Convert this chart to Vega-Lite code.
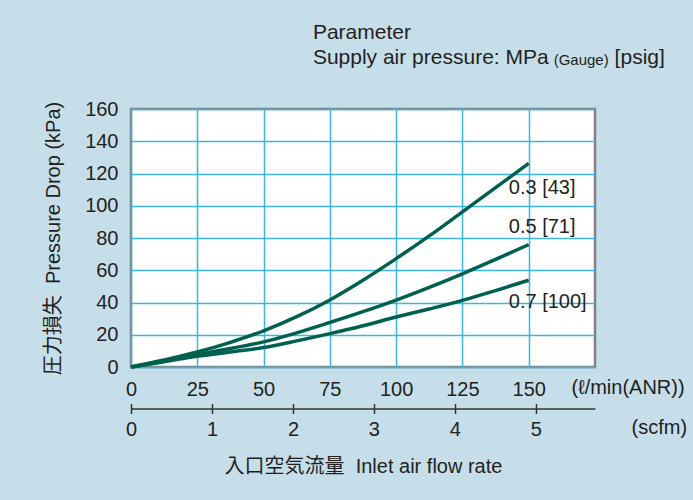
{
  "$schema": "https://vega.github.io/schema/vega-lite/v6.json",
  "width": 464,
  "height": 258,
  "autosize": {"type": "none"},
  "padding": {"left": 131, "top": 109, "right": 98, "bottom": 133},
  "background": "#c6deea",
  "config": {
    "font": "Liberation Sans, Noto Sans CJK JP, sans-serif",
    "view": {"fill": "white", "stroke": "#808080", "strokeWidth": 2.5},
    "axis": {
      "labelFont": "Liberation Sans, Noto Sans CJK JP, sans-serif",
      "titleFont": "Liberation Sans, Noto Sans CJK JP, sans-serif",
      "labelColor": "#231f20",
      "titleColor": "#231f20",
      "titleFontWeight": "normal",
      "labelFontSize": 20,
      "titleFontSize": 20,
      "labelFlush": false,
      "labelOverlap": false,
      "labelBound": false
    }
  },
  "datasets": {
    "curves": [
      {"p": "0.3", "q": 0, "dp": 0}, {"p": "0.3", "q": 12.5, "dp": 4.3}, {"p": "0.3", "q": 25, "dp": 9.3},
      {"p": "0.3", "q": 37.5, "dp": 15.3}, {"p": "0.3", "q": 50, "dp": 22.4}, {"p": "0.3", "q": 62.5, "dp": 31.2},
      {"p": "0.3", "q": 75, "dp": 41.6}, {"p": "0.3", "q": 87.5, "dp": 53.8}, {"p": "0.3", "q": 100, "dp": 67.2},
      {"p": "0.3", "q": 112.5, "dp": 81.3}, {"p": "0.3", "q": 125, "dp": 96.2}, {"p": "0.3", "q": 137.5, "dp": 111.2},
      {"p": "0.3", "q": 150, "dp": 126.3},
      {"p": "0.5", "q": 0, "dp": 0}, {"p": "0.5", "q": 12.5, "dp": 3.7}, {"p": "0.5", "q": 25, "dp": 7.8},
      {"p": "0.5", "q": 37.5, "dp": 11.5}, {"p": "0.5", "q": 50, "dp": 15.6}, {"p": "0.5", "q": 62.5, "dp": 21.2},
      {"p": "0.5", "q": 75, "dp": 27.6}, {"p": "0.5", "q": 87.5, "dp": 34.3}, {"p": "0.5", "q": 100, "dp": 41.5},
      {"p": "0.5", "q": 112.5, "dp": 49.4}, {"p": "0.5", "q": 125, "dp": 57.8}, {"p": "0.5", "q": 137.5, "dp": 66.7},
      {"p": "0.5", "q": 150, "dp": 75.9},
      {"p": "0.7", "q": 0, "dp": 0}, {"p": "0.7", "q": 12.5, "dp": 3.3}, {"p": "0.7", "q": 25, "dp": 6.7},
      {"p": "0.7", "q": 37.5, "dp": 9.3}, {"p": "0.7", "q": 50, "dp": 12.1}, {"p": "0.7", "q": 62.5, "dp": 16.2},
      {"p": "0.7", "q": 75, "dp": 20.7}, {"p": "0.7", "q": 87.5, "dp": 25.6}, {"p": "0.7", "q": 100, "dp": 31},
      {"p": "0.7", "q": 112.5, "dp": 36}, {"p": "0.7", "q": 125, "dp": 41.3}, {"p": "0.7", "q": 137.5, "dp": 47.4},
      {"p": "0.7", "q": 150, "dp": 53.8}
    ],
    "labels": [
      {"t": "0.3 [43]", "x": 142.5, "y": 110.9},
      {"t": "0.5 [71]", "x": 142.5, "y": 86.7},
      {"t": "0.7 [100]", "x": 142.5, "y": 40.3}
    ],
    "header": [
      {"t": "Parameter", "x": 68.6, "y": 207.1},
      {"t": "Supply air pressure: MPa", "x": 68.6, "y": 191.6},
      {"t": "[psig]", "x": 182.4, "y": 191.6}
    ],
    "header_small": [
      {"t": "(Gauge)", "x": 159.4, "y": 191.6}
    ],
    "scfm": [
      {"s": 0}, {"s": 1}, {"s": 2}, {"s": 3}, {"s": 4}, {"s": 5}
    ]
  },
  "layer": [
    {
      "layer": [
        {
          "data": {"name": "curves"},
          "mark": {"type": "line", "interpolate": "monotone", "color": "#00604f", "strokeWidth": 3.5},
          "encoding": {
            "x": {
              "field": "q", "type": "quantitative",
              "scale": {"domain": [0, 175], "nice": false},
              "axis": {"values": [0, 25, 50, 75, 100, 125, 150], "grid": true, "gridColor": "#3ab6e6", "gridWidth": 1.5, "domain": false, "ticks": false, "tickSize": 0, "labelPadding": 12, "title": "(ℓ/min(ANR))", "titleX": 440, "titleY": 20.5, "titleAlign": "left", "titleBaseline": "middle", "titleAnchor": "start"}
            },
            "y": {
              "field": "dp", "type": "quantitative",
              "scale": {"domain": [0, 160], "nice": false},
              "axis": {"values": [0, 20, 40, 60, 80, 100, 120, 140, 160], "grid": true, "gridColor": "#3ab6e6", "gridWidth": 1.5, "domain": false, "ticks": false, "tickSize": 0, "labelPadding": 13, "title": "圧力損失\u00a0\u00a0Pressure Drop (kPa)", "titleX": -78, "titleY": 129, "titleAngle": -90, "titleAlign": "center", "titleBaseline": "middle"}
            },
            "detail": {"field": "p"}
          }
        },
        {
          "data": {"name": "labels"},
          "mark": {"type": "text", "align": "left", "baseline": "middle", "fontSize": 20, "color": "#231f20"},
          "encoding": {
            "x": {"field": "x", "type": "quantitative",
              "axis": {"values": [0, 25, 50, 75, 100, 125, 150], "grid": true, "gridColor": "#3ab6e6", "gridWidth": 1.5, "domain": false, "ticks": false, "tickSize": 0, "labelPadding": 12, "title": "(ℓ/min(ANR))", "titleX": 440, "titleY": 20.5, "titleAlign": "left", "titleBaseline": "middle", "titleAnchor": "start"}},
            "y": {"field": "y", "type": "quantitative",
              "axis": {"values": [0, 20, 40, 60, 80, 100, 120, 140, 160], "grid": true, "gridColor": "#3ab6e6", "gridWidth": 1.5, "domain": false, "ticks": false, "tickSize": 0, "labelPadding": 13, "title": "圧力損失\u00a0\u00a0Pressure Drop (kPa)", "titleX": -78, "titleY": 129, "titleAngle": -90, "titleAlign": "center", "titleBaseline": "middle"}},
            "text": {"field": "t"}
          }
        },
        {
          "data": {"name": "header"},
          "mark": {"type": "text", "align": "left", "baseline": "middle", "fontSize": 21, "color": "#231f20"},
          "encoding": {
            "x": {"field": "x", "type": "quantitative",
              "axis": {"values": [0, 25, 50, 75, 100, 125, 150], "grid": true, "gridColor": "#3ab6e6", "gridWidth": 1.5, "domain": false, "ticks": false, "tickSize": 0, "labelPadding": 12, "title": "(ℓ/min(ANR))", "titleX": 440, "titleY": 20.5, "titleAlign": "left", "titleBaseline": "middle", "titleAnchor": "start"}},
            "y": {"field": "y", "type": "quantitative",
              "axis": {"values": [0, 20, 40, 60, 80, 100, 120, 140, 160], "grid": true, "gridColor": "#3ab6e6", "gridWidth": 1.5, "domain": false, "ticks": false, "tickSize": 0, "labelPadding": 13, "title": "圧力損失\u00a0\u00a0Pressure Drop (kPa)", "titleX": -78, "titleY": 129, "titleAngle": -90, "titleAlign": "center", "titleBaseline": "middle"}},
            "text": {"field": "t"}
          }
        },
        {
          "data": {"name": "header_small"},
          "mark": {"type": "text", "align": "left", "baseline": "middle", "fontSize": 15, "dy": 2, "color": "#231f20"},
          "encoding": {
            "x": {"field": "x", "type": "quantitative",
              "axis": {"values": [0, 25, 50, 75, 100, 125, 150], "grid": true, "gridColor": "#3ab6e6", "gridWidth": 1.5, "domain": false, "ticks": false, "tickSize": 0, "labelPadding": 12, "title": "(ℓ/min(ANR))", "titleX": 440, "titleY": 20.5, "titleAlign": "left", "titleBaseline": "middle", "titleAnchor": "start"}},
            "y": {"field": "y", "type": "quantitative",
              "axis": {"values": [0, 20, 40, 60, 80, 100, 120, 140, 160], "grid": true, "gridColor": "#3ab6e6", "gridWidth": 1.5, "domain": false, "ticks": false, "tickSize": 0, "labelPadding": 13, "title": "圧力損失\u00a0\u00a0Pressure Drop (kPa)", "titleX": -78, "titleY": 129, "titleAngle": -90, "titleAlign": "center", "titleBaseline": "middle"}},
            "text": {"field": "t"}
          }
        }
      ]
    },
    {
      "data": {"name": "scfm"},
      "mark": {"type": "point", "opacity": 0},
      "encoding": {
        "x": {
          "field": "s", "type": "quantitative",
          "scale": {"domain": [0, 5.73], "nice": false},
          "axis": {
            "orient": "bottom", "offset": 41.5,
            "values": [0, 1, 2, 3, 4, 5],
            "grid": false, "domain": true, "domainColor": "#333333", "domainWidth": 1.5,
            "ticks": false, "tickSize": 0, "labelPadding": 10.5,
            "title": "(scfm)",
            "titleX": 500, "titleY": 19, "titleAlign": "left", "titleBaseline": "middle", "titleAnchor": "start"
          }
        }
      }
    },
    {
      "data": {"name": "scfm"},
      "mark": {"type": "point", "opacity": 0},
      "encoding": {
        "x": {
          "field": "s", "type": "quantitative",
          "scale": {"domain": [0, 5.73], "nice": false},
          "axis": {
            "orient": "bottom", "offset": 36.5,
            "values": [0, 1, 2, 3, 4, 5],
            "grid": false, "domain": false, "labels": false,
            "ticks": true, "tickSize": 10, "tickColor": "#333333", "tickWidth": 1.5,
            "title": "入口空気流量\u00a0\u00a0Inlet air flow rate",
            "titleX": 232, "titleY": 63, "titleAlign": "center", "titleBaseline": "middle"
          }
        }
      }
    }
  ],
  "resolve": {"scale": {"x": "independent"}}
}
